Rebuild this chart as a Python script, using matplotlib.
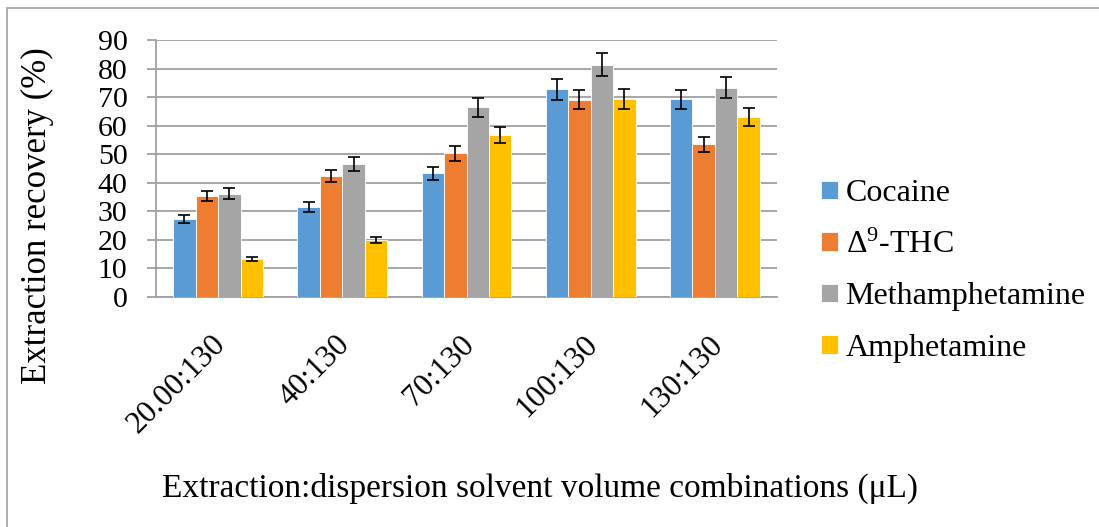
import numpy as np
import matplotlib
matplotlib.use("Agg")
import matplotlib.pyplot as plt
import matplotlib.patches as mpatches
from matplotlib.transforms import ScaledTranslation

plt.rcParams['font.family'] = ['Liberation Serif', 'DejaVu Serif']
plt.rcParams['mathtext.fontset'] = 'custom'
plt.rcParams['mathtext.rm'] = 'Liberation Serif'
plt.rcParams['mathtext.it'] = 'Liberation Serif:italic'

# data
categories = ['20.00:130', '40:130', '70:130', '100:130', '130:130']
series = ['Cocaine', 'Δ$^{9}$-THC', 'Methamphetamine', 'Amphetamine']
cocaine = [27.3, 31.5, 43.3, 72.7, 69.2]
thc = [35.3, 42.4, 50.3, 69.1, 53.5]
meth = [36.2, 46.6, 66.5, 81.4, 73.3]
amph = [13.4, 20.0, 56.6, 69.4, 63.1]
cocaine_err = [1.3, 1.6, 2.3, 3.7, 3.4]
thc_err = [1.8, 2.2, 2.5, 3.4, 2.7]
meth_err = [1.8, 2.4, 3.3, 4.1, 3.7]
amph_err = [0.75, 1.05, 2.8, 3.5, 3.1]
colors = ['#5B9BD5', '#ED7D31', '#A5A5A5', '#FFC000']

values = [cocaine, thc, meth, amph]
errors = [cocaine_err, thc_err, meth_err, amph_err]

W, H = 1099, 527
fig = plt.figure(figsize=(W / 100, H / 100), dpi=100)
ax = fig.add_axes([156 / W, 1 - 297 / H, (777 - 156) / W, (297 - 40) / H])

x = np.arange(len(categories))
bw = 0.181
for i in range(len(series)):
    ax.bar(x + (i - 1.5) * bw, values[i], bw, color=colors[i], label=series[i],
           edgecolor='white', linewidth=0.6, zorder=3)
    ax.errorbar(x + (i - 1.5) * bw, values[i], yerr=errors[i], fmt='none',
                ecolor='black', elinewidth=1.2, capsize=4, capthick=1.2, zorder=4)

ax.set_xlim(-0.5, len(categories) - 0.5)
ax.set_ylim(0, 90)
ax.set_yticks(np.arange(0, 91, 10))
ax.yaxis.grid(True, color='#A0A0A0', linewidth=1.3, zorder=0)
ax.set_axisbelow(True)
for s in ['top', 'right']:
    ax.spines[s].set_visible(False)
for s in ['left', 'bottom']:
    ax.spines[s].set_color('#A0A0A0')
    ax.spines[s].set_linewidth(1.3)
ax.tick_params(axis='y', length=6.5, width=1.3, color='#A0A0A0', pad=14, labelsize=21.5)
ax.tick_params(axis='x', length=0, pad=31, labelsize=22.5)

ax.set_xticks(x)
ax.set_xticklabels(categories, rotation=45, ha='right', va='center', rotation_mode='anchor')
offset = ScaledTranslation(3 / 100, 0, fig.dpi_scale_trans)
for lab in ax.get_xticklabels():
    lab.set_transform(lab.get_transform() + offset)

fig.text(37 / W, 1 - 216 / H, 'Extraction recovery (%)', rotation=90,
         ha='center', va='center', fontsize=25)
fig.text(540 / W, 1 - 488 / H, 'Extraction:dispersion solvent volume combinations (μL)',
         ha='center', va='center', fontsize=24)

fig.legend(loc='center left', bbox_to_anchor=(821 / W, 1 - 271 / H), frameon=False,
           fontsize=23, handlelength=0.52, handleheight=0.52, handletextpad=0.25,
           labelspacing=0.7, borderpad=0, borderaxespad=0)

# outer chart frame
frame = mpatches.Rectangle((7 / W, -0.1), 1.2, 1.1 - 8 / H, transform=fig.transFigure,
                           fill=False, edgecolor='#A8A8A8', linewidth=1.3)
fig.patches.append(frame)

fig.savefig('out.png', dpi=100)
